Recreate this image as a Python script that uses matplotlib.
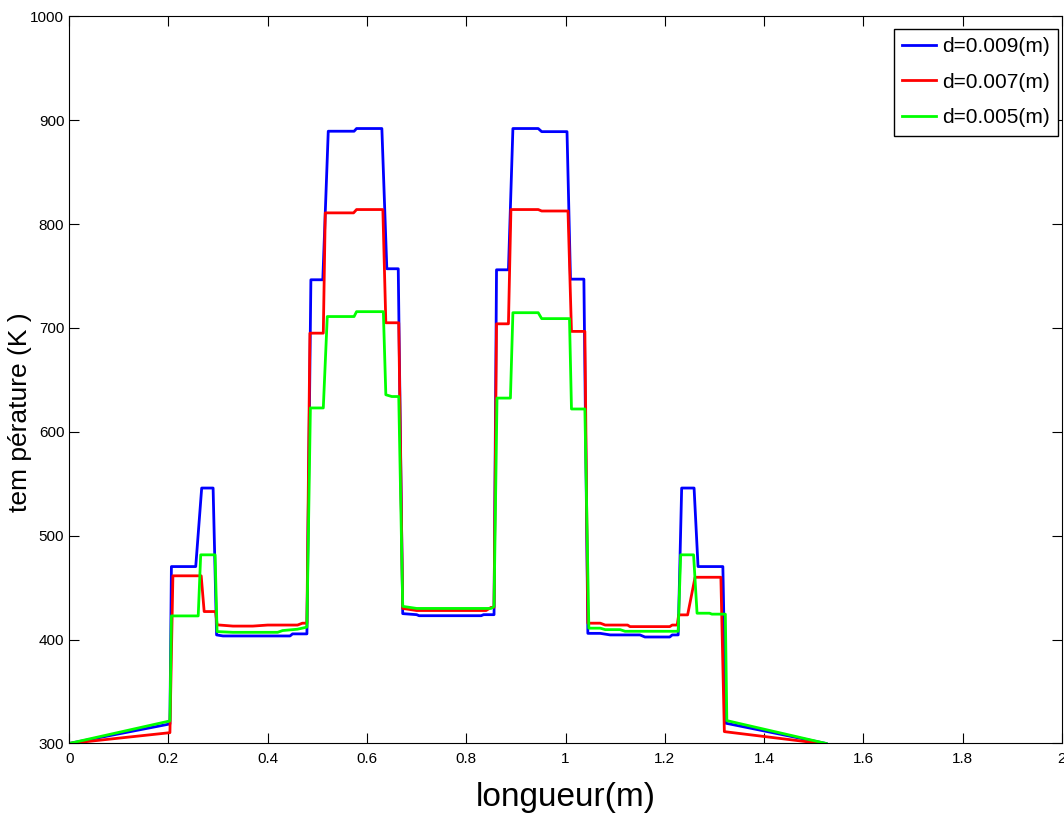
import matplotlib
matplotlib.use('Agg')
import matplotlib.pyplot as plt

plt.rcParams['font.family'] = ['Liberation Sans', 'DejaVu Sans']

# d = 0.009 m
x_009 = [0, 0.203, 0.206, 0.255, 0.267, 0.290, 0.297, 0.31, 0.445, 0.45, 0.479,
         0.487, 0.511, 0.522, 0.574, 0.579, 0.630, 0.640, 0.663, 0.672, 0.70, 0.705,
         0.83, 0.835, 0.856, 0.861, 0.885, 0.894, 0.945, 0.952, 1.003, 1.010, 1.037,
         1.045, 1.07, 1.09, 1.15, 1.16, 1.21, 1.215, 1.227, 1.234, 1.259, 1.267,
         1.317, 1.323, 1.525]
T_009 = [300, 318.8, 470.3, 470.3, 545.9, 545.9, 404.5, 403.5, 403.5, 405.5, 405.5,
         746.4, 746.4, 889.4, 889.4, 892, 892, 757, 757, 425, 424, 423,
         423, 424, 424, 756, 756, 892, 892, 889, 889, 747, 747,
         406, 406, 404.5, 404.5, 402.5, 402.5, 404.5, 404.5, 545.9, 545.9, 470.3,
         470.3, 319.5, 300]

# d = 0.007 m
x_007 = [0, 0.203, 0.209, 0.266, 0.272, 0.295, 0.298, 0.33, 0.37, 0.40, 0.46, 0.47,
         0.479, 0.485, 0.512, 0.516, 0.573, 0.579, 0.632, 0.638, 0.664, 0.672, 0.70,
         0.84, 0.85, 0.856, 0.861, 0.885, 0.890, 0.945, 0.952, 1.005, 1.012, 1.039,
         1.045, 1.07, 1.08, 1.125, 1.13, 1.21, 1.215, 1.225, 1.228, 1.246, 1.261,
         1.313, 1.320, 1.515]
T_007 = [300, 310.4, 461.4, 461.4, 427, 427, 414.2, 413, 413, 414, 414, 415.8,
         415.8, 695, 695, 810.8, 810.8, 814, 814, 705, 705, 430, 428,
         428, 431, 431, 704, 704, 814, 814, 812.6, 812.6, 696.7, 696.7,
         415.8, 415.8, 414, 414, 412.5, 412.5, 414, 414, 423.8, 423.8, 460,
         460, 311.4, 300]

# d = 0.005 m
x_005 = [0, 0.203, 0.206, 0.26, 0.265, 0.294, 0.298, 0.33, 0.42, 0.43, 0.46, 0.479,
         0.486, 0.512, 0.52, 0.574, 0.579, 0.633, 0.638, 0.650, 0.664, 0.672, 0.70,
         0.85, 0.856, 0.862, 0.889, 0.894, 0.945, 0.952, 1.008, 1.012, 1.039,
         1.047, 1.07, 1.08, 1.11, 1.12, 1.227, 1.232, 1.258, 1.265, 1.29, 1.295,
         1.322, 1.325, 1.525]
T_005 = [300, 321.7, 422.8, 422.8, 481.6, 481.6, 407.7, 407, 407, 408.7, 410, 412,
         623, 623, 711, 711, 715.7, 715.7, 635.7, 634, 634, 432, 430,
         430, 432, 632.5, 632.5, 714.7, 714.7, 709, 709, 622, 622,
         411, 411, 409.6, 409.6, 408, 408, 481.6, 481.6, 425.4, 425.4, 424.5,
         424.5, 322, 300]

labels = ['d=0.009(m)', 'd=0.007(m)', 'd=0.005(m)']
colors = ['#0000ff', '#ff0000', '#00ff00']

fig = plt.figure(figsize=(10.64, 8.17), dpi=100)
ax = fig.add_axes([0.065, 0.09, 0.933, 0.89])

for xs, ys, lab, c in zip([x_009, x_007, x_005], [T_009, T_007, T_005], labels, colors):
    ax.plot(xs, ys, color=c, linewidth=2, label=lab)

ax.set_xlim(0, 2)
ax.set_ylim(300, 1000)
ax.set_xticks([0, 0.2, 0.4, 0.6, 0.8, 1, 1.2, 1.4, 1.6, 1.8, 2])
ax.set_xticklabels(['0', '0.2', '0.4', '0.6', '0.8', '1', '1.2', '1.4', '1.6', '1.8', '2'])
ax.set_yticks(range(300, 1001, 100))
ax.tick_params(direction='in', top=True, right=True, length=7, labelsize=11)
ax.tick_params(axis='x', pad=6)

ax.set_xlabel('longueur(m)', fontsize=24, labelpad=12)
ax.set_ylabel('tem pérature (K )', fontsize=19)
ax.yaxis.set_label_coords(-0.037, 0.456)

leg = ax.legend(loc='upper right', bbox_to_anchor=(0.996, 0.983), borderaxespad=0,
                fontsize=15, handlelength=1.6, handletextpad=0.3,
                fancybox=False, edgecolor='black', framealpha=1,
                labelspacing=0.8)
leg.get_frame().set_linewidth(1)

fig.savefig('out.png', dpi=100)
